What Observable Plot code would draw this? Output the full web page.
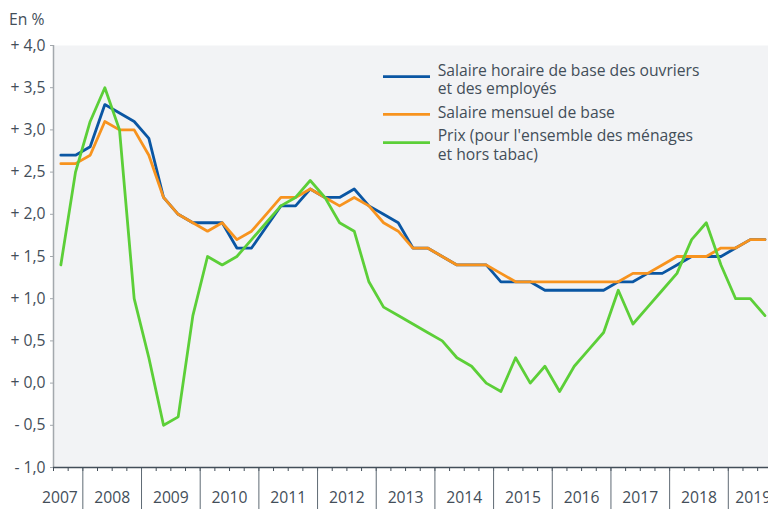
<!DOCTYPE html>
<html><head><meta charset="utf-8">
<script src="https://cdn.jsdelivr.net/npm/d3@7"></script>
<script src="https://cdn.jsdelivr.net/npm/@observablehq/plot@0.6"></script>
<style>
body{margin:0;background:#fff;}
#chart{position:relative;width:768px;height:509px;overflow:hidden;}
</style>
</head><body><div id="chart"></div>
<script>
// ---- data (quarterly, year-on-year change in %) ----
const startYear = 2007, startQuarter = 3;
const yearLabels = ["2007","2008","2009","2010","2011","2012","2013","2014","2015","2016","2017","2018","2019"];
const yTicks = [-1, -0.5, 0, 0.5, 1, 1.5, 2, 2.5, 3, 3.5, 4];
const seriesNames = [
  ["Salaire horaire de base des ouvriers", "et des employés"],
  ["Salaire mensuel de base"],
  ["Prix (pour l'ensemble des ménages", "et hors tabac)"]
];
const seriesColors = ["#0a56a3", "#f7931e", "#5ccf38"];
const hourly = [2.7,2.7, 2.8,3.3,3.2,3.1, 2.9,2.2,2.0,1.9, 1.9,1.9,1.6,1.6, 1.85,2.1,2.1,2.3, 2.2,2.2,2.3,2.1,
                2.0,1.9,1.6,1.6, 1.5,1.4,1.4,1.4, 1.2,1.2,1.2,1.1, 1.1,1.1,1.1,1.1, 1.2,1.2,1.3,1.3, 1.4,1.5,1.5,1.5, 1.6,1.7,1.7];
const monthly = [2.6,2.6, 2.7,3.1,3.0,3.0, 2.7,2.2,2.0,1.9, 1.8,1.9,1.7,1.8, 2.0,2.2,2.2,2.3, 2.2,2.1,2.2,2.1,
                 1.9,1.8,1.6,1.6, 1.5,1.4,1.4,1.4, 1.3,1.2,1.2,1.2, 1.2,1.2,1.2,1.2, 1.2,1.3,1.3,1.4, 1.5,1.5,1.5,1.6, 1.6,1.7,1.7];
const prices = [1.4,2.5, 3.1,3.5,3.0,1.0, 0.3,-0.5,-0.4,0.8, 1.5,1.4,1.5,1.7, 1.9,2.1,2.2,2.4, 2.2,1.9,1.8,1.2,
                0.9,0.8,0.7,0.6, 0.5,0.3,0.2,0.0, -0.1,0.3,0.0,0.2, -0.1,0.2,0.4,0.6, 1.1,0.7,0.9,1.1, 1.3,1.7,1.9,1.4, 1.0,1.0,0.8];

// ---- build ----
const q0 = (startYear - 2007) * 4 + (startQuarter - 1); // quarters since 2007 Q1
const toRows = arr => arr.map((v, i) => ({t: q0 + i + 0.5, v}));
const yearStart = y => (+y - 2007) * 4;
const xMax = q0 + 48.74;
const fmt = d => (d < 0 ? "- " : "+ ") + Math.abs(d).toFixed(1).replace(".", ",");
const quarterTicks = d3.range(q0, Math.floor(xMax) + 1);
const yearBounds = yearLabels.map(yearStart).filter(t => t > q0 && t <= xMax);
const midYears = yearLabels.slice(1, -1);
const font = "'Open Sans', sans-serif";
const textColor = "#434e59";
const fs = "15.7px";

const chart = Plot.plot({
  width: 768, height: 509,
  marginLeft: 53, marginRight: 0, marginTop: 45, marginBottom: 42,
  style: {fontFamily: font, fontSize: fs, color: textColor, background: "transparent"},
  x: {domain: [q0, xMax]},
  y: {domain: [-1, 4]},
  marks: [
    Plot.frame({fill: "#f2f3f5", stroke: null}),
    Plot.axisY({ticks: yTicks, tickFormat: fmt, tickSize: 3, tickPadding: 5, stroke: "#a3a8ad", label: null}),
    Plot.ruleX([q0], {stroke: "#a3a8ad", strokeWidth: 1.5}),
    Plot.axisX({ticks: quarterTicks, tickSize: 4, tickFormat: () => "", stroke: textColor, label: null}),
    Plot.axisX({ticks: yearBounds, tickSize: 42, tickFormat: () => "", stroke: "#5f6a74", label: null}),
    Plot.ruleY([-1], {stroke: textColor, strokeWidth: 1.5}),
    Plot.line(toRows(hourly), {x: "t", y: "v", stroke: seriesColors[0], strokeWidth: 2.8}),
    Plot.line(toRows(monthly), {x: "t", y: "v", stroke: seriesColors[1], strokeWidth: 2.8}),
    Plot.line(toRows(prices), {x: "t", y: "v", stroke: seriesColors[2], strokeWidth: 2.8}),
    Plot.text([yearLabels[0]], {x: d => yearStart(d) + 4, frameAnchor: "bottom", dy: 35, dx: -5, textAnchor: "end", text: d => d, fill: textColor}),
    Plot.text(midYears, {x: d => yearStart(d) + 2, frameAnchor: "bottom", dy: 35, text: d => d, fill: textColor}),
    Plot.text([yearLabels[yearLabels.length - 1]], {x: d => yearStart(d), frameAnchor: "bottom", dy: 35, dx: 7, textAnchor: "start", text: d => d, fill: textColor})
  ]
});
document.getElementById("chart").appendChild(chart);

// ---- unit label and in-plot legend ----
const svg = d3.select(chart);
svg.append("text").attr("x", 9).attr("y", 25).attr("fill", textColor).attr("text-anchor", "start")
  .style("font-family", font).style("font-size", fs).text("En %");
const lg = svg.append("g").attr("text-anchor", "start").style("font-family", font).style("font-size", fs).attr("fill", textColor);
const swatchY = [76.7, 114.3, 142.7];
const textY = [[76, 93.5], [117.7], [141, 159.5]];
seriesNames.forEach((lines, i) => {
  lg.append("line").attr("x1", 383).attr("x2", 430).attr("y1", swatchY[i]).attr("y2", swatchY[i])
    .attr("stroke", seriesColors[i]).attr("stroke-width", 2.8);
  lines.forEach((s, j) => lg.append("text").attr("x", 437.7).attr("y", textY[i][j]).text(s));
});
</script>
</body></html>
